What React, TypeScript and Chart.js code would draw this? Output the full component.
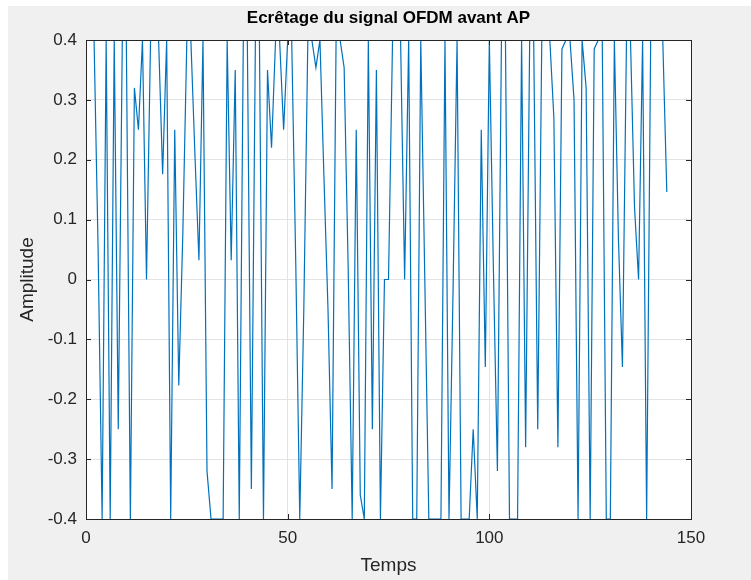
import React, { useEffect, useRef } from "react";
import { Chart, registerables } from "chart.js";

Chart.register(...registerables);

const chartTitle = "Ecrêtage du signal OFDM avant AP";
const xAxisLabel = "Temps";
const yAxisLabel = "Amplitude";
const xTickValues = [0, 50, 100, 150];
const yTickValues = [-0.4, -0.3, -0.2, -0.1, 0, 0.1, 0.2, 0.3, 0.4];

// Clipped OFDM signal samples (index 1..144)
const amplitude = [
  0.4, 0.4, 0.05, -0.4, 0.4, -0.4, 0.4, -0.25, 0.4, 0.4,
  -0.4, 0.32, 0.25, 0.4, 0.0, 0.4, 0.4, 0.4, 0.176, 0.4,
  -0.4, 0.25, -0.177, 0.075, 0.4, 0.4, 0.21, 0.032, 0.4, -0.32,
  -0.4, -0.4, -0.4, -0.4, 0.4, 0.032, 0.35, -0.4, 0.4, 0.4,
  -0.35, 0.4, 0.4, -0.4, 0.35, 0.22, 0.4, 0.4, 0.25, 0.4,
  0.4, 0.03, -0.4, -0.05, 0.4, 0.4, 0.354, 0.4, 0.17, -0.05,
  -0.35, 0.4, 0.4, 0.354, 0.02, -0.4, 0.25, -0.36, -0.4, 0.4,
  -0.25, 0.35, -0.4, 0.0, 0.0, 0.4, 0.4, 0.4, 0.0, 0.4,
  -0.4, -0.4, 0.4, 0.0, -0.4, -0.4, -0.4, -0.4, 0.4, -0.4,
  -0.02, 0.4, -0.4, -0.4, -0.4, -0.25, -0.4, 0.25, -0.146, 0.4,
  0.02, -0.32, 0.4, 0.4, -0.4, -0.4, -0.4, 0.4, -0.28, 0.4,
  0.4, -0.25, 0.4, 0.4, 0.4, 0.27, -0.28, 0.385, 0.4, 0.4,
  0.3, -0.4, 0.4, 0.32, -0.4, 0.385, 0.4, 0.4, -0.4, -0.4,
  0.4, 0.07, -0.146, 0.4, 0.4, 0.12, 0.0, 0.4, -0.4, 0.4,
  0.4, 0.4, 0.4, 0.146,
];

const FONT = "'Liberation Sans', Arial, Helvetica, sans-serif";
const AXIS_COLOR = "#262626";

export default function App() {
  const canvasRef = useRef<HTMLCanvasElement | null>(null);

  useEffect(() => {
    const canvas = canvasRef.current;
    if (!canvas) return;

    const axesFrame = {
      id: "axesFrame",
      beforeDraw(chart: any) {
        const { ctx, chartArea: a } = chart;
        ctx.save();
        ctx.fillStyle = "#ffffff";
        ctx.fillRect(a.left, a.top, a.right - a.left, a.bottom - a.top);
        ctx.restore();
      },
      afterDraw(chart: any) {
        const { ctx, chartArea: a, scales } = chart;
        ctx.save();
        ctx.strokeStyle = AXIS_COLOR;
        ctx.lineWidth = 1;
        ctx.strokeRect(a.left + 0.5, a.top + 0.5, a.right - a.left, a.bottom - a.top);
        const len = 5;
        ctx.beginPath();
        for (const v of xTickValues) {
          const px = Math.round(scales.x.getPixelForValue(v)) + 0.5;
          ctx.moveTo(px, a.bottom);
          ctx.lineTo(px, a.bottom - len);
          ctx.moveTo(px, a.top);
          ctx.lineTo(px, a.top + len);
        }
        for (const v of yTickValues) {
          const py = Math.round(scales.y.getPixelForValue(v)) + 0.5;
          ctx.moveTo(a.left, py);
          ctx.lineTo(a.left + len, py);
          ctx.moveTo(a.right, py);
          ctx.lineTo(a.right - len, py);
        }
        ctx.stroke();
        ctx.restore();
      },
    };

    const chart = new Chart(canvas, {
      type: "line",
      data: {
        datasets: [
          {
            data: amplitude.map((v, i) => ({ x: i + 1, y: v })),
            borderColor: "#0072BD",
            borderWidth: 1.2,
            pointRadius: 0,
            tension: 0,
            fill: false,
          },
        ],
      },
      options: {
        animation: false,
        responsive: false,
        devicePixelRatio: 1,
        layout: { padding: { top: 0, right: 60, bottom: 0, left: 0 } },
        plugins: {
          legend: { display: false },
          tooltip: { enabled: false },
          title: {
            display: true,
            text: chartTitle,
            fullSize: false,
            color: "#000000",
            font: { family: FONT, size: 17, weight: "bold" },
            padding: { top: 8, bottom: 11.6 },
          },
        },
        scales: {
          x: {
            type: "linear",
            min: 0,
            max: 150,
            afterBuildTicks: (s: any) => {
              s.ticks = xTickValues.map((v) => ({ value: v }));
            },
            afterFit: (s: any) => {
              s.height = 61;
            },
            grid: { color: "#e3e3e3", drawTicks: false, lineWidth: 1 },
            border: { display: false },
            ticks: {
              padding: 9,
              color: AXIS_COLOR,
              font: { family: FONT, size: 17 },
              maxRotation: 0,
              callback: (v: any) => String(v),
            },
            title: {
              display: true,
              text: xAxisLabel,
              color: AXIS_COLOR,
              font: { family: FONT, size: 19 },
              padding: { top: 0, bottom: 2.6 },
            },
          },
          y: {
            type: "linear",
            min: -0.4,
            max: 0.4,
            afterBuildTicks: (s: any) => {
              s.ticks = yTickValues.map((v) => ({ value: v }));
            },
            afterFit: (s: any) => {
              s.width = 86;
            },
            grid: { color: "#e3e3e3", drawTicks: false, lineWidth: 1 },
            border: { display: false },
            ticks: {
              padding: 9,
              color: AXIS_COLOR,
              font: { family: FONT, size: 17 },
              callback: (v: any) => (Math.abs(v) < 1e-9 ? "0" : Number(v).toFixed(1)),
            },
            title: {
              display: true,
              text: yAxisLabel,
              color: AXIS_COLOR,
              font: { family: FONT, size: 19 },
              padding: { top: 16.6, bottom: 0 },
            },
          },
        },
      },
      plugins: [axesFrame],
    } as any);

    return () => chart.destroy();
  }, []);

  return (
    <div>
      <div
        style={{
          position: "fixed",
          left: 8,
          top: 6,
          right: 0,
          bottom: 0,
          background: "#f0f0f0",
        }}
      />
      <canvas
        ref={canvasRef}
        width={751}
        height={580}
        style={{ position: "fixed", left: 0, top: 0, width: 751, height: 580 }}
      />
    </div>
  );
}
